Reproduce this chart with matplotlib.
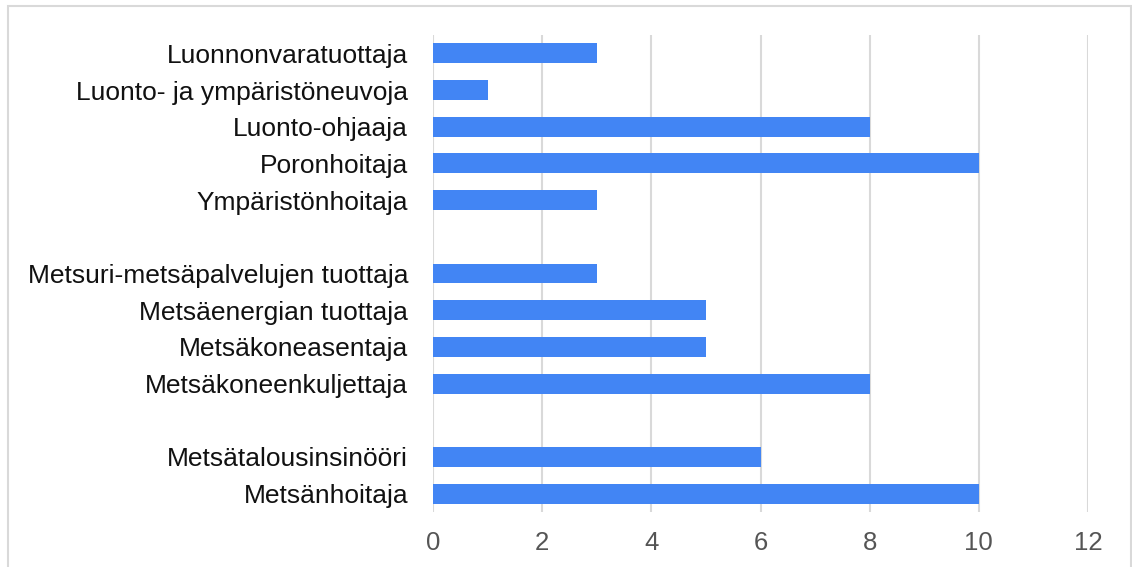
import matplotlib
matplotlib.use("Agg")
import matplotlib.pyplot as plt
from matplotlib.patches import Rectangle

groups = [
    ["Luonnonvaratuottaja", "Luonto- ja ympäristöneuvoja", "Luonto-ohjaaja",
     "Poronhoitaja", "Ympäristönhoitaja"],
    ["Metsuri-metsäpalvelujen tuottaja", "Metsäenergian tuottaja",
     "Metsäkoneasentaja", "Metsäkoneenkuljettaja"],
    ["Metsätalousinsinööri", "Metsänhoitaja"],
]
values = [
    [3, 1, 8, 10, 3],
    [3, 5, 5, 8],
    [6, 10],
]
xticks = [0, 2, 4, 6, 8, 10, 12]

plt.rcParams['font.family'] = ['Liberation Sans', 'DejaVu Sans']

fig = plt.figure(figsize=(11.32, 5.67), dpi=100)
ax = fig.add_axes([433/1132, 1-512/567, (1088-433)/1132, (512-35)/567])

pos = 0
ypos, labels, vals = [], [], []
for gi, (g, v) in enumerate(zip(groups, values)):
    for name, val in zip(g, v):
        ypos.append(pos); labels.append(name); vals.append(val)
        pos += 1
    if gi < len(groups) - 1:
        pos += 1
nslots = pos

ax.barh(ypos, vals, height=0.545, color="#4285F4", zorder=3)
ax.set_ylim(nslots - 0.5, -0.5)
ax.set_xlim(0, 12)
ax.set_xticks(xticks)
ax.set_xticklabels([str(t) for t in xticks])
ax.set_yticks(ypos)
ax.set_yticklabels(labels)
ax.tick_params(axis='y', length=0, pad=18, labelsize=19, labelcolor="#111111")
ax.tick_params(axis='x', length=0, pad=14, labelsize=18.5, labelcolor="#555555")
for s in ax.spines.values():
    s.set_visible(False)
ax.grid(axis='x', color="#d9d9d9", linewidth=1.5, zorder=0)
ax.set_axisbelow(True)

fig.patches.append(Rectangle((8/1132, -0.1), (1131-8)/1132, 1.1 - 5.5/567,
                             transform=fig.transFigure, fill=False,
                             edgecolor="#d9d9d9", linewidth=1.5))

fig.savefig("out.png", dpi=100)
